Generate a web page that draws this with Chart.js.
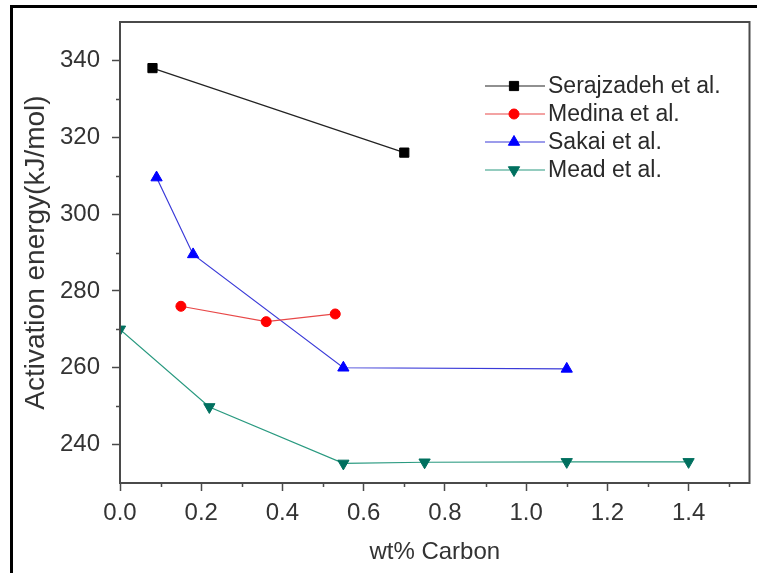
<!DOCTYPE html>
<html>
<head>
<meta charset="utf-8">
<script src="https://cdn.jsdelivr.net/npm/chart.js@4"></script>
<style>
    html, body { margin: 0; padding: 0; background: #fff; }
    #wrap { width: 757px; height: 573px; }
</style>
</head>
<body>
<div id="wrap"><canvas id="energyChart" width="757" height="573"></canvas></div>
<script>
// activation energy vs carbon content, four studies
const seriesNames = ['Serajzadeh et al.', 'Medina et al.', 'Sakai et al.', 'Mead et al.'];

const serajX = [0.08, 0.70];
const serajY = [338, 316];
const medinaX = [0.15, 0.36, 0.53];
const medinaY = [276, 272, 274];
const sakaiX = [0.09, 0.18, 0.55, 1.10];
const sakaiY = [309.5, 289.5, 260, 259.7];
const meadX = [0.00, 0.22, 0.55, 0.75, 1.10, 1.40];
const meadY = [270, 249.8, 235.1, 235.4, 235.5, 235.5];

const xTicks = [0.0, 0.2, 0.4, 0.6, 0.8, 1.0, 1.2, 1.4];
const xMinor = [0.1, 0.3, 0.5, 0.7, 0.9, 1.1, 1.3, 1.5];
const yTicks = [240, 260, 280, 300, 320, 340];
const yMinor = [250, 270, 290, 310, 330];

const toPoints = (xs, ys) => xs.map((x, i) => ({ x: x, y: ys[i] }));

const axisColor = '#4a4a4a';
const textColor = '#333';

const makeSet = (label, xs, ys, color, lineColor, style, radius, rotation) => ({
    label: label,
    data: toPoints(xs, ys),
    showLine: true,
    borderColor: lineColor,
    borderWidth: 1.2,
    backgroundColor: color,
    pointBackgroundColor: color,
    pointBorderColor: color,
    pointBorderWidth: 1,
    pointStyle: style,
    pointRadius: radius,
    pointRotation: rotation || 0,
    tension: 0
});

const datasets = [
    makeSet(seriesNames[0], serajX, serajY, '#000', '#222', 'rect', 6.5),
    makeSet(seriesNames[1], medinaX, medinaY, '#ff0000', '#e84848', 'circle', 5),
    makeSet(seriesNames[2], sakaiX, sakaiY, '#0000ff', '#3a3ad8', 'triangle', 6.5),
    makeSet(seriesNames[3], meadX, meadY, '#00705f', '#2a9a80', 'triangle', 6.5, 180)
];

// outer frame, plot box, minor ticks and the legend
const decorPlugin = {
    id: 'decor',
    beforeDraw(chart) {
        const ctx = chart.ctx;
        ctx.save();
        ctx.fillStyle = '#fff';
        ctx.fillRect(0, 0, chart.width, chart.height);
        ctx.fillStyle = '#000';
        ctx.fillRect(10, 5, chart.width - 10, 3);
        ctx.fillRect(10, 5, 3, chart.height - 5);
        ctx.restore();
    },
    afterDraw(chart) {
        const ctx = chart.ctx;
        const area = chart.chartArea;
        const xs = chart.scales.x;
        const ys = chart.scales.y;
        ctx.save();
        ctx.strokeStyle = axisColor;
        ctx.lineWidth = 2;
        ctx.strokeRect(area.left, area.top, area.right - area.left, area.bottom - area.top);

        ctx.lineWidth = 1.5;
        ctx.beginPath();
        xMinor.forEach(v => {
            const px = Math.round(xs.getPixelForValue(v)) + 0.5;
            ctx.moveTo(px, area.bottom);
            ctx.lineTo(px, area.bottom + 4);
        });
        yMinor.forEach(v => {
            const py = Math.round(ys.getPixelForValue(v)) + 0.5;
            ctx.moveTo(area.left, py);
            ctx.lineTo(area.left - 4, py);
        });
        ctx.stroke();

        // legend
        const rowY = [86, 114, 142, 170];
        ctx.font = '23px "Liberation Sans", Arial, sans-serif';
        ctx.textBaseline = 'middle';
        ctx.textAlign = 'left';
        chart.data.datasets.forEach((ds, i) => {
            const y = rowY[i];
            ctx.strokeStyle = ds.borderColor;
            ctx.lineWidth = ds.borderWidth;
            ctx.beginPath();
            ctx.moveTo(485, y);
            ctx.lineTo(545, y);
            ctx.stroke();
            ctx.fillStyle = ds.pointBackgroundColor;
            ctx.strokeStyle = ds.pointBorderColor;
            ctx.lineWidth = 1;
            Chart.helpers.drawPoint(ctx, {
                pointStyle: ds.pointStyle,
                rotation: ds.pointRotation,
                radius: ds.pointRadius,
                borderWidth: 1
            }, 514, y);
            ctx.fillStyle = '#2a2a2a';
            ctx.fillText(ds.label, 548, y + 1);
        });
        ctx.restore();
    }
};

const tickFont = { family: '"Liberation Sans", Arial, sans-serif', size: 24 };

new Chart(document.getElementById('energyChart').getContext('2d'), {
    type: 'scatter',
    data: { datasets: datasets },
    options: {
        responsive: false,
        animation: false,
        events: [],
        layout: { padding: { left: 0, top: 22, right: 7, bottom: 0 } },
        plugins: {
            legend: { display: false },
            tooltip: { enabled: false }
        },
        scales: {
            x: {
                type: 'linear',
                min: 0,
                max: 1.55,
                afterFit: (scale) => {
                    scale.height = 90;
                    scale.paddingLeft = 0;
                    scale.paddingRight = 0;
                },
                afterBuildTicks: (scale) => { scale.ticks = xTicks.map(v => ({ value: v })); },
                grid: {
                    display: true,
                    drawOnChartArea: false,
                    drawTicks: true,
                    tickLength: 8,
                    tickWidth: 1.5,
                    tickColor: axisColor
                },
                border: { display: true, color: axisColor, width: 2 },
                ticks: {
                    color: textColor,
                    font: tickFont,
                    padding: 8,
                    maxRotation: 0,
                    callback: (v) => Number(v).toFixed(1)
                },
                title: {
                    display: true,
                    text: 'wt% Carbon',
                    color: textColor,
                    font: { family: '"Liberation Sans", Arial, sans-serif', size: 24 },
                    padding: { top: 0, bottom: 6 }
                }
            },
            y: {
                type: 'linear',
                min: 230,
                max: 350,
                afterFit: (scale) => {
                    scale.width = 120;
                    scale.paddingTop = 0;
                    scale.paddingBottom = 0;
                },
                afterBuildTicks: (scale) => { scale.ticks = yTicks.map(v => ({ value: v })); },
                grid: {
                    display: true,
                    drawOnChartArea: false,
                    drawTicks: true,
                    tickLength: 8,
                    tickWidth: 1.5,
                    tickColor: axisColor
                },
                border: { display: true, color: axisColor, width: 2 },
                ticks: {
                    color: textColor,
                    font: tickFont,
                    padding: 12,
                    callback: (v) => String(v)
                },
                title: {
                    display: true,
                    text: 'Activation energy(kJ/mol)',
                    color: textColor,
                    font: { family: '"Liberation Sans", Arial, sans-serif', size: 28 },
                    padding: { top: 19, bottom: 0 }
                }
            }
        }
    },
    plugins: [decorPlugin]
});
</script>
</body>
</html>
